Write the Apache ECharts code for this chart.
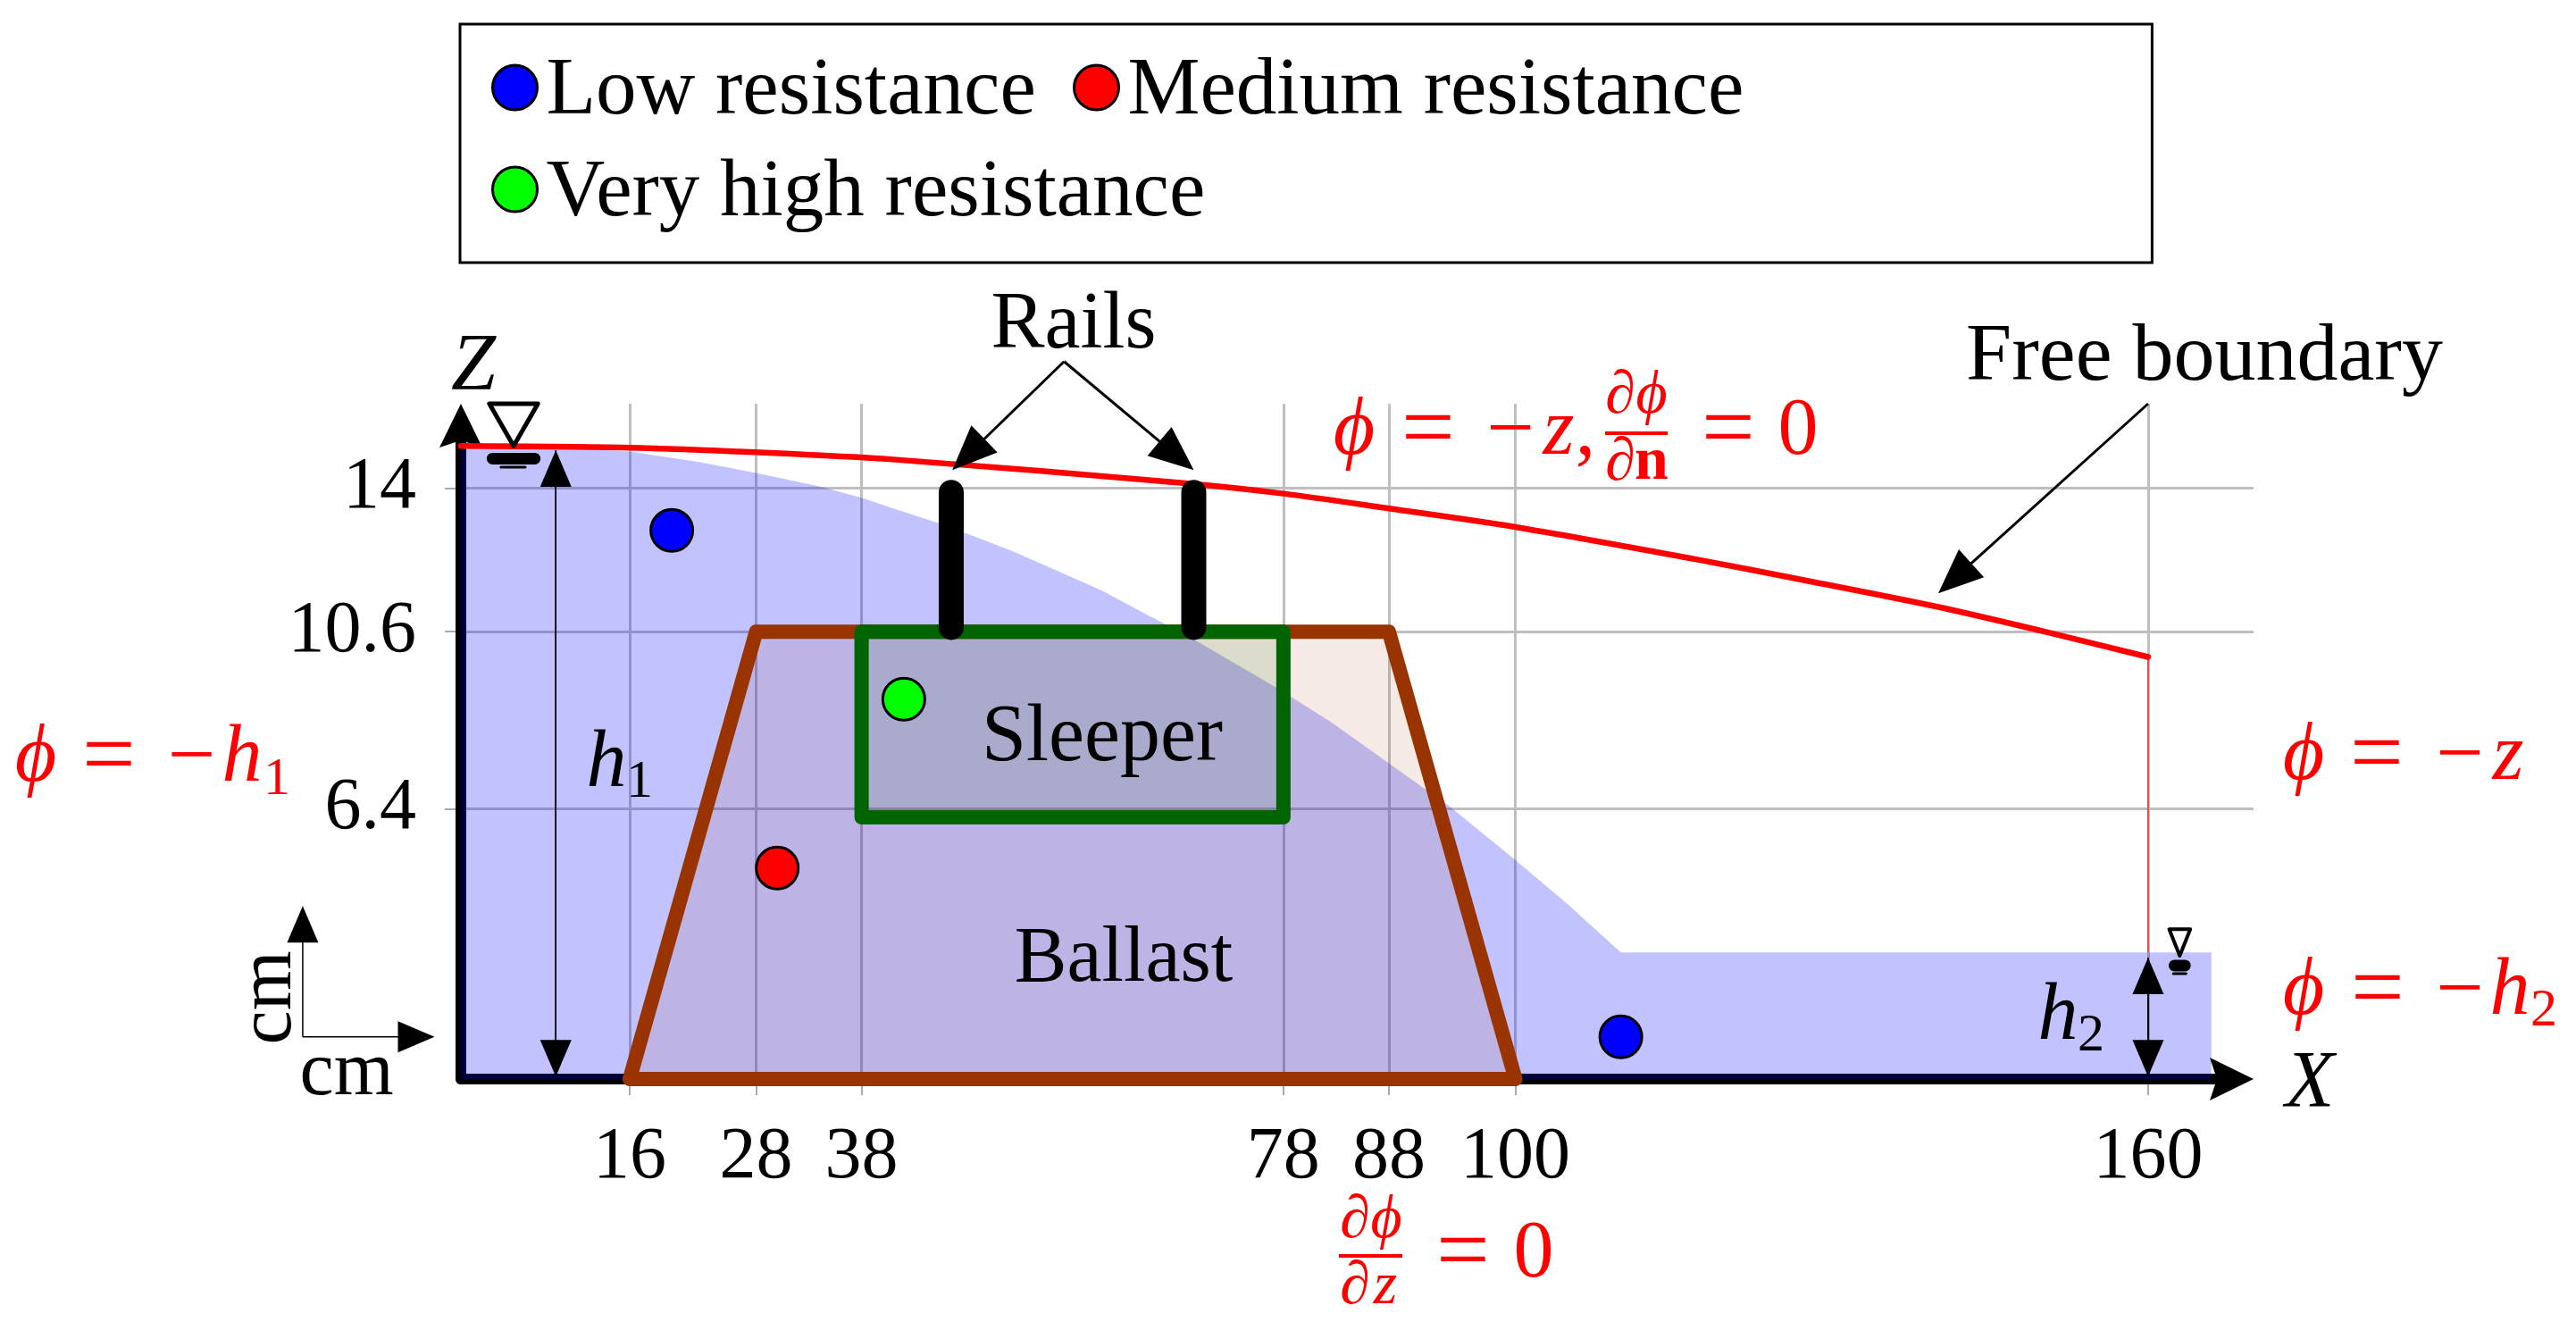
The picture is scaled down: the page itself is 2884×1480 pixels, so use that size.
<!DOCTYPE html>
<html>
<head>
<meta charset="utf-8">
<style>html,body{margin:0;padding:0;background:#fff}#c{width:2884px;height:1480px}</style>
<script src="https://cdn.jsdelivr.net/npm/echarts@6/dist/echarts.min.js"></script>
</head>
<body>
<div id="c"></div>
<script>
// ---------- data (x cm, z cm) ----------
const xTicks = [16, 28, 38, 78, 88, 100, 160];
const zTicks = [6.4, 10.6, 14];
const wetRegion = [[0,15],[10,14.96],[16,14.87],[22.6,14.62],[28,14.36],[33.9,14.05],[38,13.77],[41,13.52],[45.2,13.18],[47.8,12.94],[52.3,12.51],[56.5,12.05],[60.8,11.57],[65,11.01],[66.8,10.78],[69.5,10.42],[77.3,9.28],[82.5,8.46],[88,7.48],[91.6,6.84],[93.6,6.49],[100,5.19],[105,4.13],[110,3],[166,3],[166,0]];
const freeBoundary = [[0,15],[16,14.96],[28,14.85],[41,14.68],[68,14.13],[78,13.87],[88,13.52],[100,13.08],[117,12.32],[127.8,11.8],[140,11.19],[150.2,10.6],[160,10]];
const ballast = [[16,0],[28,10.6],[88,10.6],[100,0]];
const sleeper = [[38,10.6],[78,10.6],[78,6.2],[38,6.2]];
const rails = [[46.5,13.9,46.5,10.7],[69.5,13.9,69.5,10.7]];
const seepLine = [[160,10],[160,3]];
const lowPoints = [[20,13],[110,1]];
const mediumPoints = [[30,5]];
const veryHighPoints = [[42,9]];
const axisArrows = [[0,0,170,0],[0,0,0,16]];
const calloutArrows = [[57.2,17,46.6,14.43],[57.2,17,69.5,14.43],[160,16,140.1,11.51]];
const headArrows = [[9,14.9,9,0.06],[9,0.06,9,14.9],[160,0.06,160,2.88],[160,2.88,160,0.06],[-15,1,-15,4.1],[-15,1,-2.5,1]];
const waterTriangles = [[[2.7,16],[7.3,16],[5,15]],[[162,3.55],[164,3.55],[163,2.92]]];
const waterBars = [[3,14.7,7,14.7],[162.5,2.69,163.5,2.69]];
const waterDashes = [[3.8,14.5,6.1,14.5],[162.4,2.5,163.6,2.5]];
const legendNames = ['Low resistance','Medium resistance','','Very high resistance'];

// ---------- helpers ----------
const SERIF = '"Liberation Serif","Times New Roman",serif';
function polygon(points, fill, stroke, lineWidth, z){
  return {type:'custom',coordinateSystem:'cartesian2d',z,silent:true,data:[points[0]],
    renderItem:(p,api)=>({type:'polygon',shape:{points:points.map(q=>api.coord(q))},
      style:{fill,stroke,lineWidth,lineJoin:'round'}})};
}
function segments(rows, stroke, lineWidth, z){
  return {type:'custom',coordinateSystem:'cartesian2d',z,silent:true,data:rows,
    renderItem:(p,api)=>{
      const a=api.coord([api.value(0),api.value(1)]),b=api.coord([api.value(2),api.value(3)]);
      return {type:'line',shape:{x1:a[0],y1:a[1],x2:b[0],y2:b[1]},style:{stroke,lineWidth,lineCap:'round'}};
    }};
}
function arrows(rows, lineWidth, len, wid, z, notch){
  return {type:'custom',coordinateSystem:'cartesian2d',z,silent:true,data:rows,
    renderItem:(p,api)=>{
      const a=api.coord([api.value(0),api.value(1)]),b=api.coord([api.value(2),api.value(3)]);
      const dx=b[0]-a[0],dy=b[1]-a[1],d=Math.hypot(dx,dy),ux=dx/d,uy=dy/d;
      const bx=b[0]-ux*len,by=b[1]-uy*len;
      const n=notch||0,nx=bx+ux*n,ny=by+uy*n;
      return {type:'group',children:[
        {type:'line',shape:{x1:a[0],y1:a[1],x2:nx+ux*2,y2:ny+uy*2},style:{stroke:'#000',lineWidth,lineCap:notch?'round':'butt'}},
        {type:'polygon',shape:{points:[b,[bx-uy*wid/2,by+ux*wid/2],[nx,ny],[bx+uy*wid/2,by-ux*wid/2]]},style:{fill:'#000'}}
      ]};
    }};
}
function scatter(name,data,color){
  return {type:'scatter',name,data,z:8,symbol:'circle',symbolSize:47,silent:true,
    itemStyle:{color,borderColor:'#000',borderWidth:3,opacity:1}};
}
const FS=90;
function txt(cx,base,text,o={}){
  const fs=o.fs||FS;
  return {type:'text',z:50,silent:true,x:cx,y:base-0.24*fs,
    style:{text,fill:o.color||'#000',align:'center',verticalAlign:'middle',
      font:`${o.style||'normal'} ${o.weight||'normal'} ${fs}px ${SERIF}`}};
}
const R='#f00';
const REDI={color:R,style:'italic'}, BI={style:'italic'};
const FR={fs:68,color:R,style:'italic'};
const eq=(cx,base)=>txt(cx,base+5,'=',{fs:106,color:R});
const minus=(cx,base)=>txt(cx,base+2,'−',{fs:95,color:R});
function bar(x1,x2,y){return {type:'line',z:50,silent:true,shape:{x1,y1:y,x2,y2:y},style:{stroke:R,lineWidth:4}};}

const texts=[
  txt(1202,387,'Rails'), txt(2468,423,'Free boundary',{fs:92}), txt(1234,849,'Sleeper'), txt(1258,1096,'Ballast',{fs:88}),
  txt(530,434,'Z',BI), txt(2586,1237,'X',BI),
  txt(679,878,'h',BI), txt(716,891,'1',{fs:60}),
  txt(2304,1161,'h',BI), txt(2341,1175,'2',{fs:60}),
  txt(388,1222.6,'cm',{fs:86}),
  {type:'text',z:50,silent:true,x:302,y:1117,rotation:Math.PI/2,style:{text:'cm',fill:'#000',align:'center',verticalAlign:'middle',font:`86px ${SERIF}`}},
  // left boundary
  txt(40,872,'ϕ',REDI), eq(122,872), minus(214.5,872), txt(271,872,'h',REDI), txt(310,888,'1',{fs:60,color:R}),
  // right boundary
  txt(2579,870,'ϕ',REDI), eq(2661,870), minus(2754,870), txt(2808,870,'z',REDI),
  txt(2579,1133,'ϕ',REDI), eq(2662,1133), minus(2754,1133), txt(2810,1133,'h',REDI), txt(2848,1147,'2',{fs:60,color:R}),
  // free-boundary condition
  txt(1516,506,'ϕ',REDI), eq(1599,506), minus(1691,506), txt(1745,506,'z',REDI), txt(1775,506,',',{color:R}),
  txt(1814,460,'∂',FR), txt(1849,460,'ϕ',FR), bar(1797,1867,485), txt(1814,535,'∂',FR), txt(1849,535,'n',{fs:68,color:R,weight:'bold'}),
  eq(1935,506), txt(2013,506,'0',{color:R}),
  // bottom condition
  txt(1517,1383,'∂',FR), txt(1552,1383,'ϕ',FR), bar(1499,1570,1406), txt(1517,1457,'∂',FR), txt(1551,1457,'z',FR),
  eq(1638,1427), txt(1717,1427,'0',{color:R})
];

const option={
  animation:false,
  backgroundColor:'#fff',
  grid:{left:516,top:452,width:2007,height:756,containLabel:false},
  legend:{
    show:true,left:515,top:27,orient:'horizontal',selectedMode:false,
    data:legendNames,icon:'circle',itemWidth:50,itemHeight:50,itemGap:23,
    padding:[30.5,457,31.5,35],borderColor:'#000',borderWidth:3,backgroundColor:'#fff',
    itemStyle:{borderColor:'#000',borderWidth:3},
    formatter:n=>'{t|'+n+(n==='Low resistance'?'\u2009':'')+'}',
    textStyle:{fontFamily:SERIF,fontSize:91,color:'#000',
      rich:{t:{fontFamily:SERIF,fontSize:91,color:'#000',lineHeight:101,verticalAlign:'bottom',padding:[0,0,0,5]}}}
  },
  xAxis:{type:'value',min:0,max:170,
    axisLine:{show:false},
    axisTick:{show:true,length:18,customValues:xTicks,lineStyle:{color:'#aaa',width:2}},
    axisLabel:{show:true,customValues:xTicks,margin:47,fontFamily:SERIF,fontSize:82,color:'#000'},
    splitLine:{show:true,customValues:xTicks,lineStyle:{color:'#bfbfbf',width:3}}
  },
  yAxis:{type:'value',min:0,max:16,
    axisLine:{show:false},
    axisTick:{show:true,length:18,customValues:zTicks,lineStyle:{color:'#aaa',width:2}},
    axisLabel:{show:true,customValues:zTicks,margin:50,padding:[14,0,0,0],fontFamily:SERIF,fontSize:82,color:'#000'},
    splitLine:{show:true,customValues:zTicks,lineStyle:{color:'#bfbfbf',width:3}}
  },
  series:[
    arrows(axisArrows,12,49,48,0.5,8),
    {type:'line',name:'wet',z:1,silent:true,data:wetRegion,showSymbol:false,smooth:false,lineStyle:{width:0},
      areaStyle:{color:'rgba(0,0,255,0.24)',opacity:1}},
    polygon(ballast,'rgba(153,51,0,0.1)','#993300',16,2),
    polygon(sleeper,'rgba(0,100,0,0.1)','#006400',16,3),
    {type:'line',name:'seep',z:4,silent:true,data:seepLine,showSymbol:false,lineStyle:{color:'rgba(255,0,0,0.8)',width:1.5}},
    {type:'line',name:'free',z:5,silent:true,data:freeBoundary,showSymbol:false,smooth:0.3,lineStyle:{color:'#f00',width:6.5,cap:'round'}},
    segments(rails,'#000',28,6),
    arrows(calloutArrows,3,50,42,7),
    arrows(headArrows,1.5,41,35,7),
    polygon(waterTriangles[0],'none','#000',5,7),
    polygon(waterTriangles[1],'none','#000',4,7),
    segments(waterBars,'#000',13,7),
    segments(waterDashes,'#000',3,7),
    scatter('Low resistance',lowPoints,'#00f'),
    scatter('Medium resistance',mediumPoints,'#f00'),
    scatter('Very high resistance',veryHighPoints,'#0f0')
  ],
  graphic:{elements:texts}
};
const chart=echarts.init(document.getElementById('c'),null,{renderer:'canvas',width:2884,height:1480});
chart.setOption(option);
</script>
</body>
</html>
